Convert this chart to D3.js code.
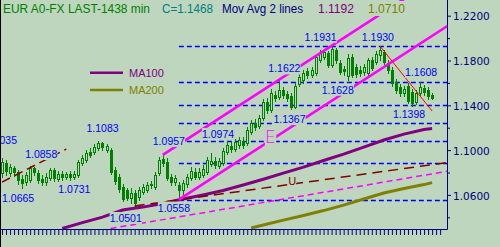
<!DOCTYPE html>
<html>
<head>
<meta charset="utf-8">
<script src="https://cdn.jsdelivr.net/npm/d3@7"></script>
<style>
  body { margin: 0; background: #bdd6bd; }
  svg { display: block; }
  .frame text { font-family: "Liberation Sans", Arial, sans-serif; }
</style>
</head>
<body>
<div id="vis"></div>
<script>
const FRAME_WIDTH = 500;
const FRAME_HEIGHT = 247;
const PLOT_RIGHT = 447;
const PLOT_BOTTOM = 229;
const BG = "#bdd6bd";

// daily candles, oldest first
const opens = [
  1.0794,1.0884,1.0794,1.0839,1.0803,1.0740,1.0714,1.0731,1.0839,1.0794,
  1.0740,1.0714,1.0749,1.0821,1.0740,1.0785,1.0758,1.0785,1.0758,1.0776,
  1.0884,1.0910,1.0982,1.0982,1.1018,1.1063,1.1000,1.1000,1.0821,1.0758,
  1.0670,1.0643,1.0572,1.0616,1.0581,1.0625,1.0643,1.0688,1.0670,1.0794,
  1.0919,1.0893,1.0758,1.0714,1.0688,1.0643,1.0696,1.0749,1.0803,1.0758,
  1.0776,1.0803,1.0875,1.0902,1.0857,1.0884,1.0982,1.1036,1.1009,1.1045,
  1.1081,1.1063,1.1161,1.1242,1.1215,1.1286,1.1429,1.1358,1.1492,1.1474,
  1.1536,1.1501,1.1483,1.1385,1.1590,1.1626,1.1706,1.1670,1.1688,1.1804,
  1.1831,1.1867,1.1760,1.1893,1.1777,1.1724,1.1661,1.1831,1.1742,1.1715,
  1.1697,1.1688,1.1804,1.1786,1.1849,1.1876,1.1777,1.1715,1.1608,1.1563,
  1.1510,1.1572,1.1518,1.1429,1.1510,1.1554,1.1536,1.1492
];
const highs = [
  1.0928,1.0910,1.0875,1.0857,1.0821,1.0776,1.0803,1.0858,1.0848,1.0821,
  1.0776,1.0794,1.0839,1.0839,1.0812,1.0812,1.0803,1.0812,1.0812,1.0910,
  1.0955,1.1000,1.1018,1.1054,1.1083,1.1072,1.1054,1.1018,1.0848,1.0785,
  1.0696,1.0661,1.0661,1.0643,1.0670,1.0696,1.0714,1.0722,1.0803,1.0937,
  1.0957,1.0928,1.0785,1.0776,1.0714,1.0731,1.0785,1.0848,1.0839,1.0839,
  1.0866,1.0937,1.0974,1.0937,1.0928,1.1018,1.1081,1.1072,1.1098,1.1116,
  1.1116,1.1206,1.1268,1.1277,1.1313,1.1456,1.1465,1.1545,1.1527,1.1622,
  1.1563,1.1527,1.1510,1.1599,1.1679,1.1715,1.1733,1.1742,1.1849,1.1893,
  1.1902,1.1885,1.1931,1.1911,1.1804,1.1751,1.1858,1.1858,1.1768,1.1751,
  1.1768,1.1822,1.1831,1.1885,1.1930,1.1893,1.1804,1.1742,1.1634,1.1590,
  1.1572,1.1599,1.1545,1.1536,1.1608,1.1581,1.1563,1.1510
];
const lows = [
  1.0758,1.0776,1.0767,1.0767,1.0696,1.0665,1.0688,1.0714,1.0776,1.0705,
  1.0688,1.0688,1.0731,1.0722,1.0722,1.0735,1.0740,1.0731,1.0740,1.0758,
  1.0866,1.0893,1.0937,1.0964,1.1000,1.1000,1.0982,1.0785,1.0696,1.0625,
  1.0545,1.0554,1.0527,1.0501,1.0554,1.0607,1.0625,1.0661,1.0652,1.0776,
  1.0857,1.0731,1.0688,1.0688,1.0558,1.0607,1.0670,1.0731,1.0740,1.0740,
  1.0758,1.0785,1.0857,1.0839,1.0839,1.0866,1.0964,1.0982,1.0991,1.1018,
  1.1018,1.1045,1.1143,1.1179,1.1197,1.1268,1.1331,1.1340,1.1438,1.1456,
  1.1465,1.1438,1.1367,1.1376,1.1572,1.1599,1.1643,1.1652,1.1670,1.1786,
  1.1813,1.1742,1.1742,1.1777,1.1679,1.1670,1.1628,1.1652,1.1652,1.1661,
  1.1670,1.1670,1.1715,1.1768,1.1804,1.1768,1.1688,1.1572,1.1510,1.1483,
  1.1483,1.1420,1.1398,1.1411,1.1492,1.1492,1.1456,1.1456
];
const closes = [
  1.0893,1.0812,1.0848,1.0803,1.0731,1.0705,1.0776,1.0839,1.0803,1.0731,
  1.0714,1.0758,1.0821,1.0749,1.0785,1.0758,1.0785,1.0758,1.0785,1.0893,
  1.0928,1.0973,1.0955,1.1027,1.1063,1.1027,1.1036,1.0803,1.0722,1.0652,
  1.0563,1.0572,1.0616,1.0527,1.0643,1.0670,1.0688,1.0696,1.0776,1.0910,
  1.0884,1.0749,1.0714,1.0749,1.0643,1.0705,1.0758,1.0812,1.0758,1.0803,
  1.0830,1.0910,1.0902,1.0866,1.0902,1.0991,1.1045,1.1009,1.1072,1.1090,
  1.1045,1.1179,1.1242,1.1206,1.1286,1.1429,1.1358,1.1510,1.1465,1.1536,
  1.1492,1.1465,1.1385,1.1572,1.1652,1.1688,1.1670,1.1715,1.1831,1.1867,
  1.1876,1.1760,1.1902,1.1804,1.1697,1.1706,1.1822,1.1670,1.1679,1.1688,
  1.1742,1.1804,1.1733,1.1858,1.1893,1.1786,1.1715,1.1599,1.1536,1.1510,
  1.1545,1.1438,1.1420,1.1510,1.1563,1.1518,1.1483,1.1468
];

// moving averages, read at some candles
const ma100Idx = [15, 20, 25, 30, 35, 40, 45, 50, 55, 60, 65, 70, 75, 80, 85, 90, 95, 100, 105, 107];
const ma100 = [1.0300, 1.0353, 1.0402, 1.0465, 1.0491, 1.0523, 1.0563, 1.0599, 1.0639, 1.0688,
               1.0740, 1.0794, 1.0848, 1.0907, 1.0964, 1.1027, 1.1090, 1.1143, 1.1184, 1.1192];
const ma200Idx = [62, 65, 70, 75, 80, 85, 90, 95, 100, 105, 107];
const ma200 = [1.0304, 1.0331, 1.0375, 1.0416, 1.0460, 1.0509, 1.0563, 1.0617, 1.0657, 1.0692, 1.0710];

const priceTicks = [1.06, 1.10, 1.14, 1.18, 1.22];
const minorTicks = [1.04, 1.08, 1.12, 1.16, 1.20];

// fibonacci retracement between swing low and high
const fibLow = 1.0558;
const fibHigh = 1.1931;
const fibStartIdx = 44;
const fibRatios = [0, 0.236, 0.382, 0.5, 0.618, 0.764, 1];

// trend lines: [idx0, price0, idx1, price1]
const channelUp = [40, 1.0957, 111, 1.2604];
const channelDown = [44, 1.0558, 111, 1.2112];
const redLine = [94, 1.1930, 107, 1.1349];
const maroonLong = [33, 1.0501, 111, 1.0890];
const maroonShort = [0, 1.0714, 16, 1.1009];
const pinkDashed = [27, 1.0300, 111, 1.0812];

// swing labels
const pivotValues = [1.1035, 1.0665, 1.0858, 1.0731, 1.1083, 1.0501, 1.0957, 1.0558, 1.0974,
                     1.1622, 1.1367, 1.1931, 1.1628, 1.1930, 1.1398, 1.1608];
const pivotIdx = [-4, 5, 7, 17, 24, 33, 40, 44, 52, 69, 72, 82, 86, 94, 102, 104];
// text offset from the pivot point (left edge, baseline)
const pivotOffsets = [[-1, -2], [-20, 14], [-5, -8], [-12, 13], [-12, -9], [-25, 16], [-10, -10],
                      [-21, 12], [-9, -15], [-11, -8], [-18, 14], [-27, -5], [-26, 14], [-18, -5],
                      [-19, 12], [-15, -6]];

const markTexts = ["E", "U"];
const markIdx = [65.4, 71.2];
const markPrices = [1.1063, 1.0688];

const FRAME = d3.select("#vis")
  .append("svg")
  .attr("width", FRAME_WIDTH)
  .attr("height", FRAME_HEIGHT)
  .attr("class", "frame");

FRAME.append("rect")
  .attr("width", FRAME_WIDTH).attr("height", FRAME_HEIGHT)
  .attr("fill", BG);

FRAME.append("clipPath").attr("id", "plot")
  .append("rect").attr("x", 0).attr("y", 0)
  .attr("width", PLOT_RIGHT).attr("height", PLOT_BOTTOM);

const X = d3.scaleLinear().domain([0, 107]).range([2, 432.1]);
const Y = d3.scaleLinear().domain([1.06, 1.22]).range([194.9, 15.7]);

const plot = FRAME.append("g").attr("clip-path", "url(#plot)");

// fib levels
const fibLevels = fibRatios.map(r => fibHigh - (fibHigh - fibLow) * r);
plot.selectAll(".fib")
  .data(fibLevels)
  .enter()
  .append("line")
  .attr("x1", X(fibStartIdx)).attr("x2", PLOT_RIGHT)
  .attr("y1", d => Math.round(Y(d)) + 0.5)
  .attr("y2", d => Math.round(Y(d)) + 0.5)
  .attr("stroke", "#0000ff")
  .attr("stroke-width", 1.6)
  .attr("stroke-dasharray", "5,3");

// moving averages
const maLine = d3.line().x(d => X(d[0])).y(d => Y(d[1]));
plot.append("path")
  .attr("d", maLine(d3.zip(ma100Idx, ma100)))
  .attr("fill", "none").attr("stroke", "#800080").attr("stroke-width", 3);
plot.append("path")
  .attr("d", maLine(d3.zip(ma200Idx, ma200)))
  .attr("fill", "none").attr("stroke", "#808000").attr("stroke-width", 3);

// candles
const candles = opens.map((o, i) => ({ i: i, o: o, h: highs[i], l: lows[i], c: closes[i] }));
const cx = i => Math.round(X(i)) + 0.5;
const GREEN = "#008000";

const cg = plot.selectAll(".candle")
  .data(candles)
  .enter()
  .append("g");

cg.append("line")
  .attr("x1", d => cx(d.i)).attr("x2", d => cx(d.i))
  .attr("y1", d => Math.round(Y(d.h))).attr("y2", d => Math.round(Y(d.l)) + 1)
  .attr("stroke", GREEN);

cg.filter(d => d.c >= d.o)
  .append("rect")
  .attr("x", d => cx(d.i) - 1)
  .attr("y", d => Math.round(Y(d.c)) + 0.5)
  .attr("width", 2)
  .attr("height", d => Math.max(Math.round(Y(d.o)) - Math.round(Y(d.c)), 1))
  .attr("fill", BG)
  .attr("stroke", GREEN);

cg.filter(d => d.c < d.o)
  .append("rect")
  .attr("x", d => cx(d.i) - 1.5)
  .attr("y", d => Math.round(Y(d.o)))
  .attr("width", 3)
  .attr("height", d => Math.max(Math.round(Y(d.c)) - Math.round(Y(d.o)), 1) + 1)
  .attr("fill", GREEN);

// trend lines
function trend(seg, color, width, dash) {
  plot.append("line")
    .attr("x1", X(seg[0])).attr("y1", Y(seg[1]))
    .attr("x2", X(seg[2])).attr("y2", Y(seg[3]))
    .attr("stroke", color)
    .attr("stroke-width", width)
    .attr("stroke-dasharray", dash);
}
trend(maroonShort, "#800000", 1.5, "9,5");
trend(maroonLong, "#800000", 1.5, "10,6");
trend(pinkDashed, "#ff00ff", 1.5, "6,4");
trend(channelUp, "#ff00ff", 2.6, null);
trend(channelDown, "#ff00ff", 2.6, null);
trend(redLine, "#ff0000", 1, null);

// legend
const legend = [["MA100", "#800080", 72.7], ["MA200", "#808000", 90]];
legend.forEach(l => {
  FRAME.append("line")
    .attr("x1", 90).attr("x2", 123).attr("y1", l[2]).attr("y2", l[2])
    .attr("stroke", l[1]).attr("stroke-width", 2.5);
  FRAME.append("text")
    .attr("x", 129).attr("y", l[2] + 3.8)
    .attr("font-size", 11).attr("fill", l[1])
    .text(l[0]);
});

// text with a box of background colour behind it
function boxedText(parent, x, y, txt, color, size) {
  const g = parent.append("g");
  const t = g.append("text")
    .attr("x", x).attr("y", y)
    .attr("font-size", size)
    .attr("fill", color)
    .text(txt);
  const b = t.node().getBBox();
  g.insert("rect", "text")
    .attr("x", b.x).attr("y", b.y)
    .attr("width", b.width).attr("height", b.height)
    .attr("fill", BG);
  return t;
}

markTexts.forEach((m, k) => {
  const t = boxedText(plot, X(markIdx[k]), Y(markPrices[k]), m,
    k === 0 ? "#ff00ff" : "#800000", k === 0 ? 17 : 11);
  if (k === 0) {
    t.style("font-family", "'DejaVu Sans', sans-serif").style("font-weight", 200);
  }
});

pivotValues.forEach((v, k) => {
  boxedText(plot, X(pivotIdx[k]) + pivotOffsets[k][0], Y(v) + pivotOffsets[k][1],
    v.toFixed(4), "#0000ff", 10.5);
});

// axes
const NAVY = "#000080";
const xAxis = FRAME.append("g")
  .attr("transform", `translate(0, ${PLOT_BOTTOM})`)
  .call(d3.axisBottom(X).tickValues(d3.range(0, 110)).tickSize(6).tickFormat(""));
xAxis.select(".domain").remove();
xAxis.selectAll("line").attr("stroke", NAVY);

const yAxis = FRAME.append("g")
  .attr("transform", `translate(${PLOT_RIGHT}, 0)`)
  .call(d3.axisRight(Y).tickValues(priceTicks).tickSize(4).tickPadding(2)
    .tickFormat(d3.format(".4f")));
yAxis.select(".domain").remove();
yAxis.selectAll("line").attr("stroke", NAVY);
yAxis.selectAll("text")
  .attr("fill", NAVY)
  .attr("dy", "0.4em")
  .style("font-family", "'DejaVu Sans', sans-serif")
  .style("font-size", "10.5px");

const yMinor = FRAME.append("g")
  .attr("transform", `translate(${PLOT_RIGHT}, 0)`)
  .call(d3.axisRight(Y).tickValues(minorTicks).tickSize(3).tickFormat(""));
yMinor.select(".domain").remove();
yMinor.selectAll("line").attr("stroke", NAVY);

FRAME.append("line")
  .attr("x1", 0).attr("x2", PLOT_RIGHT + 0.5)
  .attr("y1", PLOT_BOTTOM + 0.5).attr("y2", PLOT_BOTTOM + 0.5)
  .attr("stroke", NAVY);
FRAME.append("line")
  .attr("x1", PLOT_RIGHT + 0.5).attr("x2", PLOT_RIGHT + 0.5)
  .attr("y1", 0).attr("y2", PLOT_BOTTOM + 0.5)
  .attr("stroke", NAVY);

// title line
const last = closes.length - 1;
const titles = [
  ["EUR A0-FX LAST-1438 min", "#008000", 3, 147],
  ["C=" + closes[last].toFixed(4), "#008080", 162, 51],
  ["Mov Avg 2 lines", "#000080", 222, 81],
  [ma100[ma100.length - 1].toFixed(4), "#800080", 318, 36],
  [ma200[ma200.length - 1].toFixed(4), "#808000", 368, 37]
];
titles.forEach(t => {
  boxedText(FRAME, t[2], 13, t[0], t[1], 13)
    .attr("textLength", t[3])
    .attr("lengthAdjust", "spacingAndGlyphs");
});

// left border
FRAME.append("line")
  .attr("x1", 0.5).attr("x2", 0.5).attr("y1", 0).attr("y2", FRAME_HEIGHT)
  .attr("stroke", "#000000");
</script>
</body>
</html>
